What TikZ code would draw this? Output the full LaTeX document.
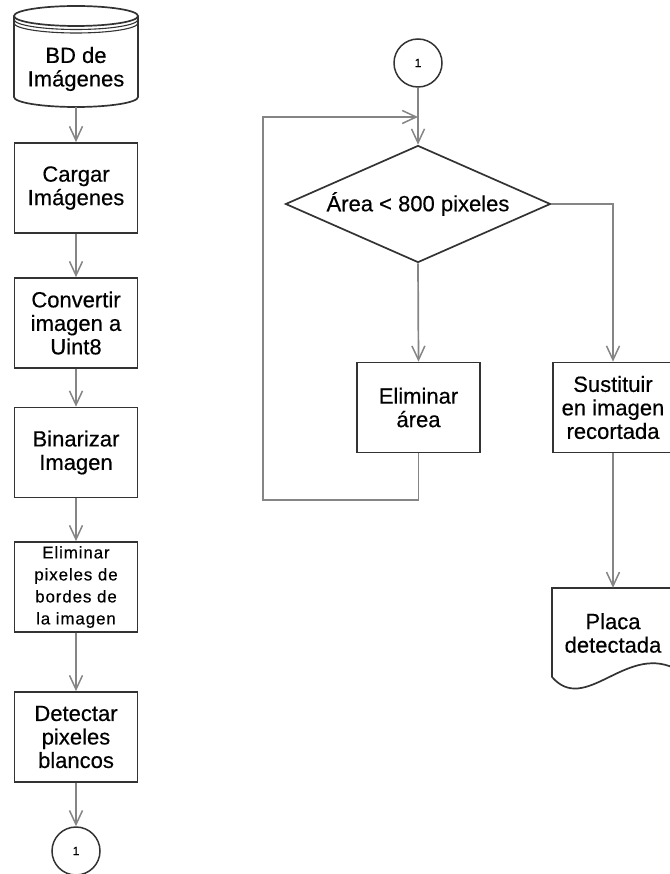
\documentclass[tikz,border=0pt]{standalone}
\usepackage{fontspec}
\setmainfont{Liberation Sans}[FakeBold=0.3]
\usetikzlibrary{arrows.meta,shapes.geometric}
\definecolor{bordc}{HTML}{333333}
\definecolor{linec}{HTML}{858585}
\begin{document}
\begin{tikzpicture}[x=1pt,y=-1pt,
  txt/.style={align=center, inner sep=0pt, font=\fontsize{22}{23.5}\selectfont\addfontfeatures{FakeBold=0.4}},
  box/.style={txt, draw=bordc, line width=1.7pt, minimum width=123pt, minimum height=90pt},
  conn/.style={draw=linec, line width=1.7pt, -{Straight Barb[length=14pt,width=13pt,line width=1.5pt]}},
  conncirc/.style={draw=bordc, line width=1.5pt, circle, minimum size=48pt, inner sep=0pt, font=\fontsize{12}{12}\selectfont},
  shapeline/.style={draw=bordc, line width=1.7pt}]
\useasboundingbox (0,0) rectangle (669,874);
% database cylinder
\node[txt, minimum width=124pt, minimum height=102pt] (db) at (76,56) {};
\node[txt] (dbtext) at (76,69) {BD de\\Imágenes};
\draw[shapeline] (14,16) -- (14,97) arc[start angle=180, end angle=0, x radius=62, y radius=10] -- (138,16);
\draw[shapeline] (76,16) ellipse [x radius=62, y radius=10];
\draw[shapeline, line width=1.1pt] (14,19.5) arc[start angle=180, end angle=0, x radius=62, y radius=10];
\draw[shapeline, line width=1.1pt] (14,23) arc[start angle=180, end angle=0, x radius=62, y radius=10];
% left column
\node[box] (cargar) at (76,188) {Cargar\\Imágenes};
\node[box] (conv) at (76,323) {Convertir\\imagen a\\Uint8};
\node[box] (bin) at (76,452.5) {Binarizar\\Imagen};
\node[box, font=\fontsize{17}{22}\selectfont\addfontfeatures{LetterSpace=5}] (elimpx) at (76,587) {Eliminar\\pixeles de\\bordes de\\la imagen};
\node[box] (detect) at (76,737) {Detectar\\pixeles\\blancos};
\node[conncirc] (c1a) at (76,851) {1};
\draw[conn] (db.south) -- (cargar.north);
\draw[conn] (cargar.south) -- (conv.north);
\draw[conn] (conv.south) -- (bin.north);
\draw[conn] (bin.south) -- (elimpx.north);
\draw[conn] (elimpx.south) -- (detect.north);
\draw[conn] (detect.south) -- (c1a.north);
% right part
\node[conncirc] (c1b) at (418,63) {1};
\node[txt, draw=bordc, line width=1.7pt, diamond, aspect=2.26, minimum width=265pt, minimum height=117pt] (dec) at (418,204) {Área < 800 pixeles};
\node[box] (elim) at (418.5,407.5) {Eliminar\\área};
\node[box, minimum width=120pt] (sust) at (613,407.5) {Sustituir\\en imagen\\recortada};
\node[txt, minimum width=122pt, minimum height=90pt] (placa) at (613,633) {Placa\\detectada};
\draw[shapeline] (552,677) -- (552,588) -- (674,588) -- (674,668) .. controls (625,645) and (585,715) .. (552,677);
\coordinate (join) at (418,117);
\coordinate (loopA) at (263,500);
\coordinate (turn) at (613,204);
\draw[conn] (c1b.south) -- (dec.north);
\draw[conn] (elim.south) |- (loopA) |- (join);
\draw[conn] (dec.south) -- (elim.north);
\draw[conn] (dec.east) -- (turn) -- (sust.north);
\draw[conn] (sust.south) -- (placa.north);
\end{tikzpicture}
\end{document}
